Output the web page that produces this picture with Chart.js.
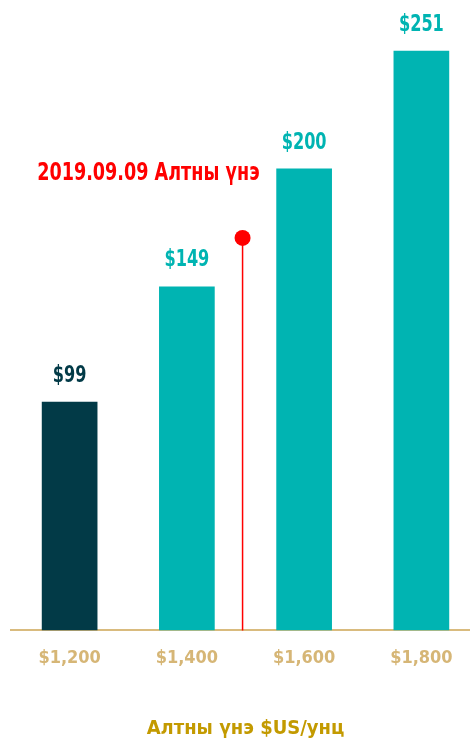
<!DOCTYPE html>
<html>
<head>
<meta charset="utf-8">
<script src="https://cdn.jsdelivr.net/npm/chart.js@4.4.1/dist/chart.umd.min.js"></script>
<style>
  html, body { margin: 0; padding: 0; background: #fff; overflow: hidden; }
  #wrap { position: absolute; left: 0; top: 0; width: 480px; height: 741px; }
</style>
</head>
<body>
<div id="wrap"><canvas id="barChart"></canvas></div>
<script>
const categories = ["$1,200", "$1,400", "$1,600", "$1,800"];
const values = [99, 149, 200, 251];
const valueLabels = ["$99", "$149", "$200", "$251"];
const barColors = ["#023a47", "#00b4b2", "#00b4b2", "#00b4b2"];
const categoryPrices = [1200, 1400, 1600, 1800];
const markerPrice = 1495;   // 2019.09.09 gold price
const markerValue = 170;    // height of the red dot
const markerLabel = "2019.09.09 Алтны үнэ";
const axisTitle = "Алтны үнэ $US/унц";

const FONT = "'DejaVu Sans Condensed', 'DejaVu Sans', sans-serif";

// draw text squeezed horizontally to look like a condensed face
function drawNarrow(ctx, text, x, y, squeeze) {
  ctx.save();
  ctx.translate(x, y);
  ctx.scale(squeeze, 1);
  ctx.fillText(text, 0, 0);
  ctx.restore();
}

const ctx = document.getElementById("barChart").getContext("2d");

new Chart(ctx, {
  type: "bar",
  data: {
    labels: categories,
    datasets: [
      {
        data: values,
        backgroundColor: barColors,
        borderWidth: 0,
        barPercentage: 0.475,
        categoryPercentage: 1,
      },
    ],
  },
  options: {
    responsive: true,
    maintainAspectRatio: false,
    animation: false,
    layout: { padding: { left: 11, right: 0, top: 7, bottom: 0 } },
    plugins: {
      legend: { display: false },
      tooltip: { enabled: false },
    },
    scales: {
      x: {
        grid: { display: false },
        border: { display: true, color: "#d9bb7e", width: 2 },
        ticks: {
          color: "#d6b676",
          font: { family: FONT, size: 18, weight: "bold" },
          padding: 9,
        },
        title: {
          display: true,
          text: axisTitle,
          color: "#c39a00",
          font: { family: FONT, size: 20, weight: "bold" },
          padding: { top: 39, bottom: 0 },
        },
      },
      y: {
        display: false,
        min: 0,
        max: 270,
      },
    },
  },
  plugins: [
    {
      id: "valueLabels",
      afterDatasetsDraw(chart) {
        const ctx = chart.ctx;
        const meta = chart.getDatasetMeta(0);
        ctx.save();
        ctx.font = "bold 23px " + FONT;
        ctx.textAlign = "center";
        ctx.textBaseline = "middle";
        meta.data.forEach((bar, i) => {
          ctx.fillStyle = barColors[i];
          drawNarrow(ctx, valueLabels[i], bar.x, bar.y - 26, 0.78);
        });
        ctx.restore();
      },
    },
    {
      id: "priceMarker",
      afterDatasetsDraw(chart) {
        const ctx = chart.ctx;
        const xs = chart.scales.x;
        const ys = chart.scales.y;
        const step = categoryPrices[1] - categoryPrices[0];
        const idx = (markerPrice - categoryPrices[0]) / step;
        const x = xs.getPixelForValue(idx);
        const yTop = ys.getPixelForValue(markerValue);
        const yBase = ys.getPixelForValue(0);
        ctx.save();
        ctx.strokeStyle = "#ff0000";
        ctx.lineWidth = 1.5;
        ctx.beginPath();
        ctx.moveTo(x, yTop);
        ctx.lineTo(x, yBase);
        ctx.stroke();
        ctx.fillStyle = "#ff0000";
        ctx.beginPath();
        ctx.arc(x, yTop, 8, 0, Math.PI * 2);
        ctx.fill();
        ctx.font = "bold 24px " + FONT;
        ctx.textAlign = "right";
        ctx.textBaseline = "middle";
        drawNarrow(ctx, markerLabel, x + 17, yTop - 64, 0.815);
        ctx.restore();
      },
    },
  ],
});
</script>
</body>
</html>
